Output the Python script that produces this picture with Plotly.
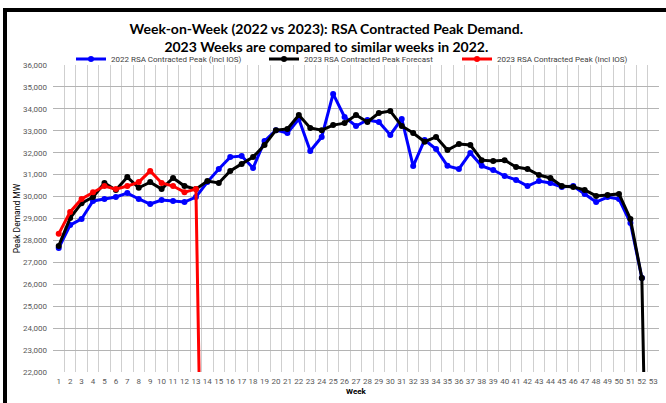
import plotly.graph_objects as go

weeks = list(range(1, 54))

blue_2022 = [27650, 28700, 28980, 29800, 29890, 29980, 30160, 29890, 29660, 29840,
             29800, 29750, 29980, 30660, 31260, 31800, 31850, 31300, 32530, 33030,
             32900, 33540, 32080, 32720, 34680, 33630, 33220, 33490, 33400, 32810,
             33540, 31390, 32580, 32170, 31400, 31260, 31990, 31400, 31210, 30940,
             30760, 30480, 30710, 30620, 30440, 30480, 30120, 29750, 29980, 29890,
             28800, 26290]
black_2023_fc = [27750, 29020, 29700, 29980, 30620, 30300, 30890, 30400, 30660, 30340,
                 30850, 30480, 30340, 30710, 30620, 31170, 31490, 31800, 32350, 33030,
                 33080, 33720, 33130, 33030, 33260, 33350, 33720, 33400, 33810, 33900,
                 33220, 32900, 32500, 32720, 32120, 32400, 32350, 31660, 31620, 31660,
                 31350, 31260, 30980, 30850, 30480, 30440, 30300, 30030, 30070, 30120,
                 28980, 26290, 0]
red_2023 = [28300, 29300, 29890, 30200, 30480, 30340, 30480, 30660, 31170, 30620,
            30480, 30200, 30340, 0]

names = ["2022 RSA Contracted Peak (Incl IOS)",
         "2023 RSA Contracted Peak Forecast",
         "2023 RSA Contracted Peak (Incl IOS)"]
colors = ["#0000ff", "#000000", "#ff0000"]

W, H = 666, 403
ML, MR, MT, MB = 53, 7, 65, 31
PW, PH = W - ML - MR, H - MT - MB

narrow = "Liberation Sans Narrow, Arial Narrow, Roboto, sans-serif"

fig = go.Figure()
for name, col, vals in zip(names, colors, [blue_2022, black_2023_fc, red_2023]):
    fig.add_trace(go.Scatter(
        x=weeks[:len(vals)], y=vals, name=name, mode="lines+markers",
        line=dict(color=col, width=3), marker=dict(color=col, size=6),
    ))

def px_x(p):
    return (p - ML) / PW

def px_y(p):
    return 1 - (p - MT) / PH

fig.update_layout(
    width=W, height=H,
    margin=dict(l=ML, r=MR, t=MT, b=MB, autoexpand=False),
    paper_bgcolor="white", plot_bgcolor="white",
    title=dict(
        text="Week-on-Week (2022 vs 2023): RSA Contracted Peak Demand.<br>2023 Weeks are compared to similar weeks in 2022.",
        font=dict(family="Lato, sans-serif", size=14, color="#000000", weight="bold"),
        x=0.49, xanchor="center", y=0.915, yanchor="middle",
    ),
    showlegend=True,
    legend=dict(
        orientation="h", x=px_x(71), xanchor="left", y=px_y(59), yanchor="middle",
        font=dict(family=narrow, size=8, color="#404040"),
        bgcolor="rgba(0,0,0,0)", itemwidth=30, tracegroupgap=0,
        entrywidth=148, entrywidthmode="pixels",
    ),
    xaxis=dict(
        range=[0.5, 53.5], tickmode="array", tickvals=weeks,
        ticktext=[str(w) for w in weeks], showgrid=False, zeroline=False,
        tickfont=dict(family=narrow, size=8, color="#595959"), tickangle=0,
        ticks="", showline=False, automargin=False, ticklabelstandoff=3,
        minor=dict(tick0=0.5, dtick=1, showgrid=True, gridcolor="#cfcfcf", gridwidth=1),
        title=dict(text="<b>Week</b>", font=dict(family=narrow, size=8, color="#000000"), standoff=3),
    ),
    yaxis=dict(
        range=[22000, 36000], dtick=1000, tickformat=",", showgrid=True,
        gridcolor="#b4b4b4", gridwidth=1, zeroline=False,
        tickfont=dict(family=narrow, size=8, color="#595959"),
        ticks="", showline=False, automargin=False, ticklabelstandoff=5,
        title=dict(text="Peak Demand MW", font=dict(family=narrow, size=8.5, color="#000000"), standoff=0),
    ),
    shapes=[dict(type="rect", xref="paper", yref="paper",
                 x0=px_x(5), x1=px_x(720), y0=px_y(460), y1=px_y(10),
                 line=dict(color="black", width=4), fillcolor="rgba(0,0,0,0)", layer="above")],
)

fig.write_html("out.html", config={"displayModeBar": False},
               post_script="document.body.style.margin='0';document.body.style.overflow='hidden';")
